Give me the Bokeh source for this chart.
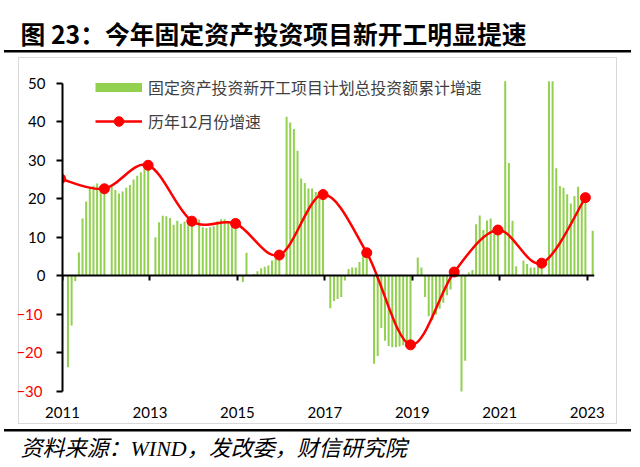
import numpy as np
from bokeh.plotting import figure
from bokeh.models import (FixedTicker, LinearAxis, Legend, LegendItem, Title,
                          ColumnDataSource, Range1d)
from bokeh.embed import file_html
from bokeh.resources import INLINE

nan = float("nan")
# 固定资产投资新开工项目计划总投资额累计增速 (%), monthly Jan..Dec (Jan not published)
y2011 = [nan, -23.7, -12.9, -1.3, 6.1, 14.9, 19.3, 23.0, 23.4, 24.0, 23.4, 22.6]
y2012 = [nan, 23.2, 22.3, 21.4, 21.9, 22.9, 23.6, 25.0, 26.0, 26.9, 27.9, 28.7]
y2013 = [nan, 10.0, 13.9, 15.6, 15.5, 15.0, 13.3, 14.3, 13.5, 14.1, 14.6, 14.2]
y2014 = [nan, 14.6, 12.6, 12.4, 12.6, 12.9, 14.2, 14.7, 14.7, 13.9, 14.1, 13.6]
y2015 = [nan, -1.6, 6.0, 0.0, 0.5, 1.2, 2.0, 2.4, 2.7, 4.0, 4.5, 5.4]
y2016 = [nan, 41.3, 39.8, 38.1, 32.5, 25.3, 24.1, 22.7, 22.7, 21.8, 21.7, 21.1]
y2017 = [nan, -8.4, -6.5, -6.0, -5.5, -1.2, 1.8, 2.2, 2.2, 3.6, 5.3, 6.0]
y2018 = [nan, -22.8, -20.8, -13.5, -16.8, -18.2, -18.5, -18.5, -18.3, -18.0, -17.6, -17.9]
y2019 = [nan, 4.8, 2.2, -5.5, -10.5, -11.5, -10.0, -8.5, -7.0, -5.0, -3.5, 1.0]
y2020 = [nan, -30.6, -22.0, 0.9, 1.5, 13.4, 15.7, 11.9, 14.4, 14.9, 12.0, 11.9]
y2021 = [nan, 50.5, 29.3, 14.3, 2.5, 0.3, 4.0, 3.1, 2.2, 2.2, 2.5, 3.3]
y2022 = [nan, 50.5, 50.5, 27.9, 23.3, 22.9, 21.2, 18.8, 20.7, 23.1, 20.5, 20.3]
y2023 = [nan, 11.7]

bar_values = (y2011 + y2012 + y2013 + y2014 + y2015 + y2016 + y2017 + y2018 +
              y2019 + y2020 + y2021 + y2022 + y2023)

# 历年12月份增速
dec_years = [2010, 2011, 2012, 2013, 2014, 2015, 2016, 2017, 2018, 2019, 2020, 2021, 2022]
dec_values = [25.2, 22.6, 28.7, 14.2, 13.6, 5.4, 21.1, 6.0, -17.9, 1.0, 11.9, 3.3, 20.3]

tick_years = [2011, 2013, 2015, 2017, 2019, 2021, 2023]
tick_year_labels = ["2011", "2013", "2015", "2017", "2019", "2021", "2023"]
y_ticks = [-30, -20, -10, 0, 10, 20, 30, 40, 50]

TITLE = "图 23：今年固定资产投资项目新开工明显提速"
SOURCE = "资料来源：WIND，发改委，财信研究院"
LEG_BAR = "固定资产投资新开工项目计划总投资额累计增速"
LEG_LINE = "历年12月份增速"

GREEN = "#92D050"
RED = "#FF0000"
AXIS_FONT = "Lato"
CJK = "Noto Sans CJK SC"

n_months = len(bar_values)
bar_x = np.arange(n_months) + 0.5
dec_x = (np.array(dec_years) - 2011) * 12 + 11 + 0.5
tick_pos = [(y - 2011) * 12 for y in tick_years]

W, H = 640, 467
FR_L, FR_R, FR_T, FR_B = 62, 46, 64, 76
px_per_unit = 308.3 / 80.0
y_top = -30 + (H - FR_T - FR_B) / px_per_unit

p = figure(width=W, height=H, output_backend="svg", toolbar_location=None,
           x_range=Range1d(0, n_months), y_range=Range1d(-30, y_top),
           min_border_left=FR_L, min_border_right=FR_R, min_border_top=FR_T, min_border_bottom=FR_B)
p.outline_line_color = None
p.xgrid.visible = False
p.ygrid.visible = False
p.border_fill_color = None
p.background_fill_color = None
# page decoration: title rule, source rule, light grey chart box
p.styles = {
    "background-color": "white",
    "background-image": ", ".join(["linear-gradient(#000000, #000000)"] * 2 +
                                  ["linear-gradient(#D9D9D9, #D9D9D9)"] * 4),
    "background-position": "4px 50px, 4px 429px, 18px 57px, 18px 423px, 18px 57px, 616px 57px",
    "background-size": "627px 2.5px, 627px 2.5px, 599px 1px, 599px 1px, 1px 367px, 1px 367px",
    "background-repeat": "no-repeat",
}

# title
p.title.text = TITLE
p.title.align = "left"
p.title.offset = 20 - FR_L
p.title.standoff = 24
p.title.vertical_align = "top"
p.title.text_font = CJK
p.title.text_font_style = "bold"
p.title.text_font_size = "24.8px"
p.title.text_color = "black"

# bars
p.vbar(x=bar_x, top=bar_values, width=0.55, bottom=0, fill_color=GREEN, line_color=None)

# smooth December curve: cubic Bezier segments through the December points
P = np.column_stack([dec_x, np.array(dec_values, dtype=float)])
n = len(P)
Pm = np.vstack([P[0], P, P[-1]])
c0 = P[:-1] + (Pm[2:n + 1] - Pm[0:n - 1]) / 6.0
c1 = P[1:] - (Pm[3:n + 2] - Pm[1:n]) / 6.0
src_curve = ColumnDataSource(dict(x0=P[:-1, 0], y0=P[:-1, 1], x1=P[1:, 0], y1=P[1:, 1],
                                  cx0=c0[:, 0], cy0=c0[:, 1], cx1=c1[:, 0], cy1=c1[:, 1]))
p.bezier(x0="x0", y0="y0", x1="x1", y1="y1", cx0="cx0", cy0="cy0", cx1="cx1", cy1="cy1",
         source=src_curve, line_color=RED, line_width=2.5)
pts = p.scatter(x=dec_x, y=dec_values, size=10, fill_color=RED, line_color=RED)

# y axis (black, non-negative labels), nearest the frame
yax = p.yaxis[0]
yax.ticker = FixedTicker(ticks=y_ticks)
yax.bounds = (-30, 50)
yax.axis_line_width = 2
yax.major_tick_line_width = 2
yax.major_tick_out = 6
yax.major_tick_in = 0
yax.minor_tick_line_color = None
yax.major_label_standoff = 11
yax.major_label_text_font = AXIS_FONT
yax.major_label_text_font_size = "15px"
yax.major_label_text_color = "black"
yax.major_label_overrides = {t: "" for t in y_ticks if t < 0}

# second left axis carrying the red negative labels
yneg = LinearAxis(ticker=FixedTicker(ticks=y_ticks), bounds=(-30, 50))
yneg.axis_line_color = None
yneg.major_tick_line_color = None
yneg.minor_tick_line_color = None
yneg.major_tick_out = 0
yneg.major_tick_in = 0
yneg.major_label_standoff = -17
yneg.major_label_text_font = AXIS_FONT
yneg.major_label_text_font_size = "15px"
yneg.major_label_text_color = RED
yneg.major_label_overrides = {t: "" for t in y_ticks if t >= 0}
p.add_layout(yneg, "left")

# year labels along the bottom (blank axis label only reserves space above the source line)
xax = p.xaxis[0]
xax.ticker = FixedTicker(ticks=tick_pos)
xax.major_label_overrides = dict(zip(tick_pos, tick_year_labels))
xax.axis_line_color = None
xax.major_tick_line_color = None
xax.minor_tick_line_color = None
xax.major_tick_out = 0
xax.major_tick_in = 0
xax.major_label_standoff = 15
xax.major_label_text_font = AXIS_FONT
xax.major_label_text_font_size = "15px"
xax.major_label_text_color = "black"
xax.axis_label = " "
xax.axis_label_text_font_size = "4px"
xax.axis_label_standoff = 5

# zero line with year ticks pointing down
zero_axis = LinearAxis(fixed_location=0, ticker=FixedTicker(ticks=tick_pos))
zero_axis.major_label_overrides = {t: "" for t in tick_pos}
zero_axis.major_label_text_font_size = "0px"
zero_axis.major_label_standoff = 0
zero_axis.axis_line_width = 2
zero_axis.major_tick_line_width = 2
zero_axis.major_tick_out = 0
zero_axis.major_tick_in = 5
zero_axis.minor_tick_line_color = None
p.add_layout(zero_axis, "above")

# source line
p.add_layout(Title(text=SOURCE, align="left", offset=20 - FR_L, standoff=4, vertical_align="top",
                   text_font="'Liberation Serif', 'Noto Sans CJK SC'", text_font_style="italic",
                   text_font_size="22px", text_color="black"), "below")

# legend
bar_swatch = p.line(x=[nan], y=[nan], line_color=GREEN, line_width=9)
line_swatch = p.line(x=[nan], y=[nan], line_color=RED, line_width=2.5)
legend = Legend(items=[
    LegendItem(label=LEG_BAR, renderers=[bar_swatch]),
    LegendItem(label=LEG_LINE, renderers=[line_swatch, pts]),
], location=(33, 258), glyph_width=47, glyph_height=24, label_height=24, label_standoff=6,
    spacing=10, padding=0, margin=0, border_line_color=None, background_fill_alpha=0,
    label_text_font=CJK, label_text_font_size="15.9px", label_text_color="#404040")
p.add_layout(legend)

open("out.html", "w").write(file_html(p, INLINE))
